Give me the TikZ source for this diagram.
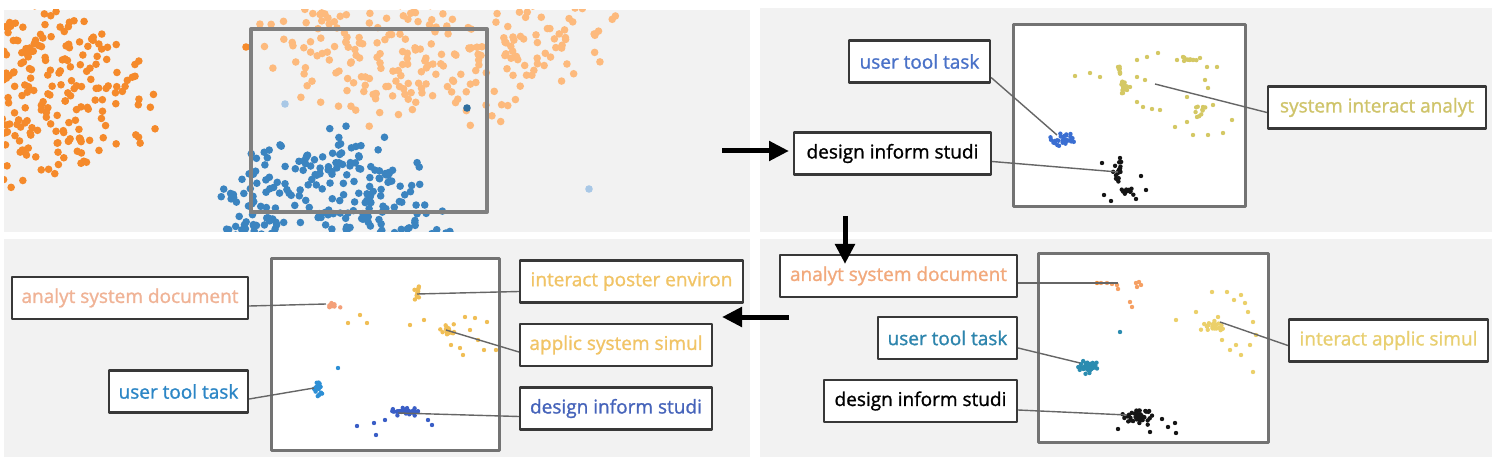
\documentclass[tikz,border=0pt]{standalone}
\usepackage{fontspec}
\setmainfont{Open Sans}
\newfontfamily\lblfont{Open Sans}[BoldFont={Open Sans},BoldFeatures={FakeBold=1.2}]
\usetikzlibrary{arrows.meta}
\definecolor{panelbg}{HTML}{F2F2F2}
\definecolor{orgdk}{HTML}{F58A2B}
\definecolor{orglt}{HTML}{FDBA7D}
\definecolor{bluedot}{HTML}{3B84C0}
\definecolor{palebl}{HTML}{A9C8E6}
\definecolor{darkteal}{HTML}{2F6F9F}
\definecolor{dBlueA}{HTML}{3A6ED2}
\definecolor{dOlive}{HTML}{D4C864}
\definecolor{dBlack}{HTML}{151515}
\definecolor{dOrgB}{HTML}{F5A064}
\definecolor{dTeal}{HTML}{2B8CB0}
\definecolor{dYelB}{HTML}{EBD06A}
\definecolor{dSalC}{HTML}{F4A079}
\definecolor{dYelC}{HTML}{F0BE55}
\definecolor{dBlueC}{HTML}{2D8FD5}
\definecolor{dIndC}{HTML}{3A5EC6}
\definecolor{tBlueA}{HTML}{4A72C8}
\definecolor{tOlive}{HTML}{CFC46A}
\definecolor{tSalB}{HTML}{F2A97C}
\definecolor{tTeal}{HTML}{2E85AD}
\definecolor{tYelB}{HTML}{E8CF70}
\definecolor{tSalC}{HTML}{F0B396}
\definecolor{tYelC}{HTML}{F1C466}
\definecolor{tBlueC}{HTML}{2C86C6}
\definecolor{tIndC}{HTML}{4563BA}
\begin{document}
\begin{tikzpicture}[x=1pt,y=-1pt,line join=round,
  lbl/.style={draw=black!78,line width=2.2pt,fill=white,minimum height=42pt,inner xsep=5pt,font=\lblfont\bfseries\fontsize{19}{22}\selectfont},
  lead/.style={draw=black!60,line width=1.4pt},
  flow/.style={line width=5pt,-{Triangle[length=20pt,width=19pt]}},
  frame/.style={draw=black!55,line width=3pt,fill=white}]
\useasboundingbox (0,0) rectangle (1492,457);
\fill[white] (0,0) rectangle (1492,457);
% panels
\fill[panelbg] (4,10) rectangle (750,232);
\fill[panelbg] (760,8) rectangle (1492,232);
\fill[panelbg] (4,239) rectangle (750,457);
\fill[panelbg] (760,239) rectangle (1492,457);
\pgfmathsetseed{7}
% overview scatter
\begin{scope}
\clip (4,10) rectangle (750,232);
\foreach \i in {1,...,215}{
  \pgfmathsetmacro\ang{180*rnd-90}
  \pgfmathsetmacro\rad{sqrt(rnd)*(0.78+0.34*rnd)}
  \fill[orgdk] ({-10+165*\rad*cos(\ang)},{98+92*\rad*sin(\ang)}) circle (3.8pt);
}
\foreach \i in {1,...,245}{
  \pgfmathsetmacro\ang{180*rnd}
  \pgfmathsetmacro\rad{sqrt(rnd)*(0.78+0.34*rnd)}
  \fill[orglt] ({428+182*\rad*cos(\ang)},{2+118*\rad*sin(\ang)}) circle (3.8pt);
}
\foreach \i in {1,...,235}{
  \pgfmathsetmacro\ang{180+180*rnd}
  \pgfmathsetmacro\rad{sqrt(rnd)*(0.78+0.34*rnd)}
  \fill[bluedot] ({325+122*\rad*cos(\ang)},{245+112*\rad*sin(\ang)}) circle (3.8pt);
}
\fill[palebl] (285,104) circle (3.8pt) (589,189) circle (3.8pt);
\fill[darkteal] (467,108) circle (3.8pt);
\fill[orgdk] (246,47) circle (3.8pt);
\end{scope}
\draw[draw=black!50,line width=4pt] (251,29) rectangle (487,212);
% zoomed views
\draw[frame] (1013,25) rectangle (1245,207);
\draw[frame] (1038,254) rectangle (1268,442);
\draw[frame] (271,259) rectangle (499,450);
\foreach \cx/\cy/\sx/\sy/\n/\c in {1063/140/15/8/30/dBlueA, 1117/172/5/12/16/dBlack,
  1127/190/9/7/12/dBlack, 1124/88/6/7/18/dOlive, 1120/70/2/6/6/dOlive, 1190/60/8/4/8/dOlive,
  1200/112/6/10/8/dOlive, 1092/368/20/8/35/dTeal, 1138/417/16/8/40/dBlack, 1212/326/12/6/22/dYelB,
  333/306/9/4/12/dSalC, 417/293/3/10/12/dYelC, 447/330/8/7/16/dYelC, 318/390/5/11/22/dBlueC,
  404/412/16/5/32/dIndC}{
  \foreach \i in {1,...,\n}{
    \fill[\c] ({\cx+\sx*(rand+rand)/2},{\cy+\sy*(rand+rand)/2}) circle (2.2pt);
  }
}
\foreach \p in {(1075,76),(1090,73),(1100,77),(1118,67),(1120,73),(1122,83),(1127,90),(1130,87),
  (1123,93),(1137,102),(1143,107),(1152,109),(1160,110),(1137,60),(1147,57),(1158,53),(1137,77),
  (1145,80),(1177,60),(1183,57),(1193,60),(1200,58),(1207,67),(1217,67),(1205,80),(1208,88),
  (1187,97),(1203,107),(1213,105),(1197,117),(1187,122),(1175,127),(1193,135),(1208,135),
  (1223,133),(1232,120)}
  \fill[dOlive] \p circle (2.2pt);
\foreach \p in {(1102,163),(1141,176),(1146,190),(1104,195),(1111,201),(1136,199),(1120,158),
  (1162,419),(1168,427),(1175,423),(1118,429),(1176,433),(1150,432)}
  \fill[dBlack] \p circle (2.2pt);
\foreach \p in {(1101,283),(1107,283),(1112,284),(1117,285),(1118,289),(1136,283),(1139,282),
  (1141,285),(1137,287),(1130,302),(1132,307)}
  \fill[dOrgB] \p circle (2.2pt);
\fill[orgdk] (1097,283) circle (2.2pt);
\fill[dTeal] (1120,332) circle (2.2pt);
\foreach \p in {(1241,295),(1248,312),(1253,322),(1256,335),(1236,345),(1241,355),(1253,372),
  (1212,292),(1227,292),(1196,312),(1176,320),(1234,300),(1245,303),(1222,340),(1230,350),
  (1250,345),(1218,317)}
  \fill[dYelB] \p circle (2.2pt);
\foreach \p in {(348,323),(360,315),(367,323),(410,325),(424,320),(465,317),(475,318),(487,322),
  (460,348),(463,355),(484,350),(496,350),(451,345),(470,330),(478,340)}
  \fill[dYelC] \p circle (2.2pt);
\fill[dBlueC] (338,368) circle (2.2pt);
\foreach \p in {(357,426),(376,435),(374,423),(385,420),(428,420),(432,425)}
  \fill[dIndC] \p circle (2.2pt);
% cluster anchors
\coordinate (cb1) at (1057,135);
\coordinate (ck1) at (1118,172);
\coordinate (cy1) at (1155,84);
\coordinate (co2) at (1118,283);
\coordinate (ct2) at (1080,363);
\coordinate (ck2) at (1127,415);
\coordinate (cy2) at (1220,322);
\coordinate (co3) at (326,304);
\coordinate (cb3) at (314,388);
\coordinate (cy3) at (417,294);
\coordinate (cy4) at (446,330);
\coordinate (ci3) at (398,413);
% labels
\node[lbl,minimum width=141pt,text=tBlueA] (utt1) at (919.5,61.5) {user tool task};
\node[lbl,minimum width=197pt] (dis1) at (892.5,153.5) {design inform studi};
\node[lbl,minimum width=218pt,text=tOlive] (sia1) at (1377,107.5) {system interact analyt};
\node[lbl,minimum width=237pt,text=tSalB] (asd2) at (898.5,276) {analyt system document};
\node[lbl,minimum width=139pt,text=tTeal] (utt2) at (947.5,338) {user tool task};
\node[lbl,minimum width=193pt] (dis2) at (920.5,401) {design inform studi};
\node[lbl,minimum width=199pt,text=tYelB] (ias2) at (1388.5,340.5) {interact applic simul};
\node[lbl,minimum width=236pt,text=tSalC] (asd3) at (130,298) {analyt system document};
\node[lbl,minimum width=139pt,text=tBlueC] (utt3) at (178.5,391.5) {user tool task};
\node[lbl,minimum width=223pt,text=tYelC] (ipe3) at (631.5,281.5) {interact poster environ};
\node[lbl,minimum width=192pt,text=tYelC] (ass3) at (616,345) {applic system simul};
\node[lbl,minimum width=192pt,text=tIndC] (dis3) at (616,408.5) {design inform studi};
% leaders
\draw[lead] ([yshift=-16pt]utt1.east) -- (cb1);
\draw[lead] ([yshift=-8pt]dis1.east) -- (ck1);
\draw[lead] (cy1) -- ([yshift=-5pt]sia1.west);
\draw[lead] ([yshift=-7pt]asd2.east) -- (co2);
\draw[lead] ([yshift=-10pt]utt2.east) -- (ct2);
\draw[lead] ([yshift=-9pt]dis2.east) -- (ck2);
\draw[lead] (cy2) -- ([yshift=-5pt]ias2.west);
\draw[lead] ([yshift=-8pt]asd3.east) -- (co3);
\draw[lead] ([yshift=-7.5pt]utt3.east) -- (cb3);
\draw[lead] ([yshift=-10pt]ipe3.west) -- (cy3);
\draw[lead] ([yshift=-7pt]ass3.west) -- (cy4);
\draw[lead] ([yshift=-8pt]dis3.west) -- (ci3);
% flow between views
\coordinate (f1s) at (722,151);
\coordinate (f1e) at (789,151);
\coordinate (f2s) at (845,216);
\coordinate (f2e) at (845,264);
\coordinate (f3s) at (789,317);
\coordinate (f3e) at (722,317);
\draw[flow] (f1s) -- (f1e);
\draw[flow] (f2s) -- (f2e);
\draw[flow] (f3s) -- (f3e);
\end{tikzpicture}
\end{document}
